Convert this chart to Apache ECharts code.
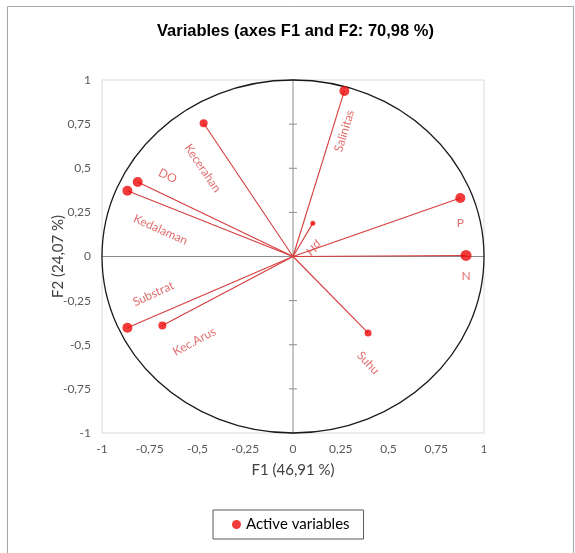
<!DOCTYPE html>
<html><head><meta charset="utf-8">
<script src="https://cdn.jsdelivr.net/npm/echarts@6/dist/echarts.min.js"></script>
<style>html,body{margin:0;padding:0;background:#fff}#c{width:575px;height:553px}</style>
</head><body><div id="c"></div>
<script>
// ---- data ----
const variables = ['Kecerahan', 'DO', 'Kedalaman', 'Salinitas', 'P', 'pH', 'N', 'Substrat', 'Kec.Arus', 'Suhu'];
const f1 = [-0.468, -0.813, -0.867, 0.269, 0.876, 0.104, 0.906, -0.867, -0.684, 0.393];
const f2 = [0.755, 0.422, 0.373, 0.938, 0.331, 0.189, 0.006, -0.404, -0.391, -0.433];
const tickValues = [-1, -0.75, -0.5, -0.25, 0, 0.25, 0.5, 0.75, 1];
const seriesName = 'Active variables';
const chartTitle = 'Variables (axes F1 and F2: 70,98 %)';
const xName = 'F1 (46,91 %)';
const yName = 'F2 (24,07 %)';

// ---- styling (not data): screen offset of label centre from point, rotation, dot size ----
const labelStyle = {
  'Kecerahan': { offset: [-1, 45], rotate: -56, size: 8 },
  'DO':        { offset: [30, -6], rotate: -25, size: 10 },
  'Kedalaman': { offset: [33, 39], rotate: -24, size: 10 },
  'Salinitas': { offset: [0, 40], rotate: 73, size: 10 },
  'P':         { offset: [0, 25], rotate: 0, size: 10 },
  'pH':        { offset: [1, 25], rotate: -140, size: 5 },
  'N':         { offset: [0, 21], rotate: 0, size: 11 },
  'Substrat':  { offset: [26, -34], rotate: 25, size: 10 },
  'Kec.Arus':  { offset: [32, 16], rotate: 28, size: 8 },
  'Suhu':      { offset: [0, 30], rotate: -47, size: 7 }
};
// label offset is applied in the rotated frame; convert the screen offset
function localOffset(o, deg) {
  const r = deg * Math.PI / 180, c = Math.cos(r), s = Math.sin(r);
  return [o[0] * c - o[1] * s, o[0] * s + o[1] * c];
}
const fmt = v => String(v).replace('.', ',');
const FONT = 'Lato, "Open Sans", sans-serif';

const chart = echarts.init(document.getElementById('c'), null, { renderer: 'canvas' });

const points = variables.map((n, i) => ({
  name: n,
  value: [f1[i], f2[i]],
  symbolSize: labelStyle[n].size,
  label: {
    show: true,
    position: 'inside',
    formatter: n,
    offset: localOffset(labelStyle[n].offset, labelStyle[n].rotate),
    rotate: labelStyle[n].rotate,
    color: '#d94a4a',
    fontSize: 12,
    fontFamily: FONT
  }
}));

chart.setOption({
  animation: false,
  backgroundColor: '#fff',
  title: {
    text: chartTitle, left: 157, top: 23, padding: 0,
    textStyle: { fontFamily: '"Liberation Sans", Arial, sans-serif', fontWeight: 'bold', fontSize: 16.5, color: '#000' }
  },
  graphic: [{
    type: 'rect', silent: true, z: -10,
    shape: { x: 7.5, y: 6.5, width: 566, height: 600 },
    style: { fill: 'none', stroke: '#a6a6a6', lineWidth: 1 }
  }],
  legend: {
    data: [seriesName], left: 213, top: 510,
    icon: 'circle', itemWidth: 9, itemHeight: 9,
    borderColor: '#595959', borderWidth: 1, borderRadius: 0,
    padding: [7, 14, 7, 19],
    textStyle: { fontFamily: FONT, fontSize: 15, color: '#000' }
  },
  grid: {
    left: 102, right: 91, top: 80, bottom: 120,
    show: true, borderColor: '#d9d9d9', borderWidth: 1
  },
  xAxis: {
    type: 'value', min: -1, max: 1, interval: 0.25,
    axisLine: { show: false, onZero: false }, axisTick: { show: false }, splitLine: { show: false },
    axisLabel: { margin: 10, color: '#595959', fontSize: 12, fontFamily: FONT, formatter: fmt },
    name: xName, nameLocation: 'middle', nameGap: 30,
    nameTextStyle: { fontFamily: FONT, fontSize: 15, color: '#404040' }
  },
  yAxis: {
    type: 'value', min: -1, max: 1, interval: 0.25,
    axisLine: { show: false, onZero: false }, axisTick: { show: false }, splitLine: { show: false },
    axisLabel: { margin: 11, color: '#595959', fontSize: 12, fontFamily: FONT, formatter: fmt },
    name: yName, nameLocation: 'middle', nameGap: 36, nameMoveOverlap: false,
    nameTextStyle: { fontFamily: FONT, fontSize: 15, color: '#404040' }
  },
  series: [
    {
      type: 'custom', name: 'frame', silent: true, clip: false, z: 1,
      data: [[0, 0]],
      encode: { x: 0, y: 1 },
      renderItem: function (params, api) {
        const c = api.coord([0, 0]);
        const l = api.coord([tickValues[0], 0]);
        const r = api.coord([tickValues[tickValues.length - 1], 0]);
        const b = api.coord([0, tickValues[0]]);
        const t = api.coord([0, tickValues[tickValues.length - 1]]);
        const children = [
          { type: 'line', shape: { x1: l[0], y1: l[1], x2: r[0], y2: r[1] }, style: { stroke: '#8c8c8c', lineWidth: 1 } },
          { type: 'line', shape: { x1: b[0], y1: b[1], x2: t[0], y2: t[1] }, style: { stroke: '#8c8c8c', lineWidth: 1 } }
        ];
        tickValues.forEach(v => {
          if (v === 0) return;
          const p = api.coord([0, v]);
          children.push({ type: 'line', shape: { x1: p[0] - 4, y1: p[1], x2: p[0] + 4, y2: p[1] }, style: { stroke: '#8c8c8c', lineWidth: 1 } });
        });
        const sz = api.size([1, 1]);
        children.push({
          type: 'ellipse',
          shape: { cx: c[0], cy: c[1], rx: sz[0], ry: sz[1] },
          style: { fill: 'none', stroke: '#1a1a1a', lineWidth: 1.3 }
        });
        return { type: 'group', children: children };
      }
    },
    {
      type: 'custom', name: 'vectors', silent: true, z: 2,
      data: variables.map((n, i) => [f1[i], f2[i]]),
      encode: { x: 0, y: 1 },
      renderItem: function (params, api) {
        const o = api.coord([0, 0]);
        const p = api.coord([api.value(0), api.value(1)]);
        return { type: 'line', shape: { x1: o[0], y1: o[1], x2: p[0], y2: p[1] }, style: { stroke: '#d53c3c', lineWidth: 1.1 } };
      }
    },
    {
      type: 'scatter', name: seriesName, z: 3,
      symbol: 'circle',
      itemStyle: { color: '#ee0a0a' },
      data: points
    }
  ]
});
</script>
</body></html>
